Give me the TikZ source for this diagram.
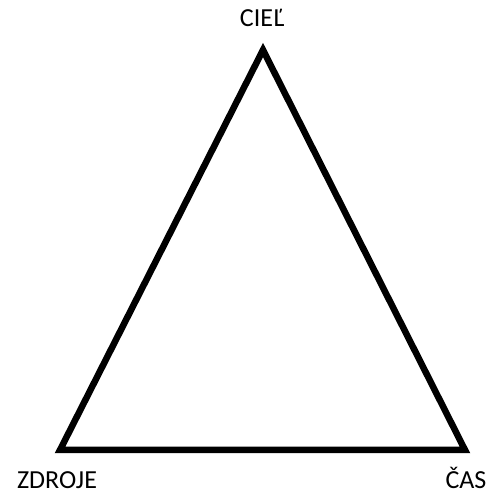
\documentclass[tikz,border=0pt]{standalone}
\usepackage{fontspec}
\setmainfont{Carlito}
\usepackage{tikz}
\usetikzlibrary{positioning}
\tikzset{
  edge/.style={line width=6.5pt, color=black, line join=miter},
  vlabel/.style={anchor=base, font=\fontsize{26}{30}\selectfont, inner sep=0pt}
}
\begin{document}
\begin{tikzpicture}[x=1pt, y=1pt]
  \useasboundingbox (0,0) rectangle (491,495);

  % Vertices
  \coordinate (ciel) at (263,445);
  \coordinate (zdroje) at (60,45);
  \coordinate (cas) at (465,45);

  % Triangle
  \draw[edge] (ciel) -- (zdroje) -- (cas) -- cycle;

  % Labels
  \node[vlabel] (lciel) at (262,468) {CIEĽ};
  \node[vlabel] (lzdroje) at (57,6) {ZDROJE};
  \node[vlabel] (lcas) at (466,6) {ČAS};
\end{tikzpicture}
\end{document}
